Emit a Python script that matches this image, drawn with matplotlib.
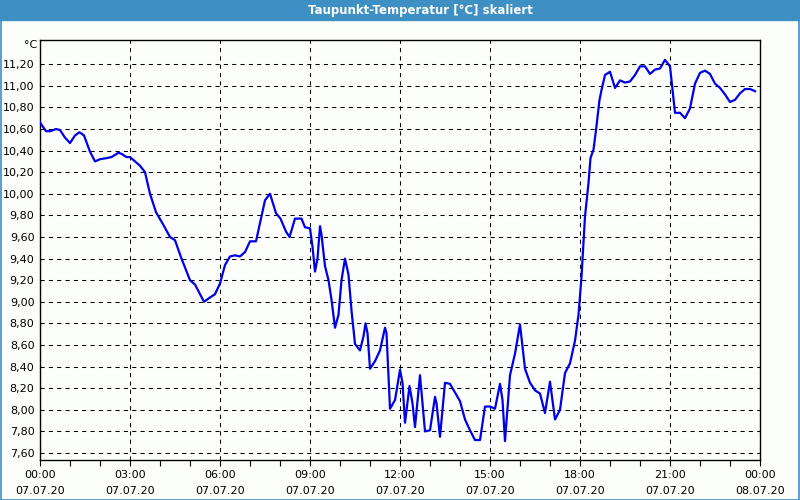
import numpy as np
import matplotlib
matplotlib.use("Agg")
import matplotlib.pyplot as plt
from matplotlib.patches import Rectangle
from matplotlib.ticker import MultipleLocator, FuncFormatter

# minutes since 07.07.20 00:00 and dew point values
minutes = [0, 12, 21, 32, 40, 50, 60, 70, 79, 88, 100, 110, 120, 133, 143, 157, 163, 173, 180, 190,
           200, 210, 220, 232, 247, 260, 270, 283, 300, 310, 328, 340, 350, 360, 370, 380, 390, 400,
           410, 420, 432, 450, 460, 472, 481, 492, 499, 510, 523, 530, 540, 545, 550, 555, 560, 563,
           570, 577, 583, 590, 597, 603, 610, 617, 623, 630, 640, 647, 651, 655, 660, 670, 680, 690,
           693, 700, 710, 720, 725, 730, 739, 745, 750, 760, 770, 780, 790, 793, 800, 810, 820, 830,
           840, 850, 860, 870, 880, 890, 900, 910, 920, 925, 930, 940, 950, 960, 970, 980, 990, 1000,
           1010, 1020, 1030, 1040, 1050, 1060, 1070, 1077, 1083, 1090, 1097, 1101, 1107, 1112, 1119,
           1123, 1130, 1140, 1150, 1160, 1170, 1180, 1190, 1200, 1210, 1220, 1230, 1240, 1250, 1260,
           1270, 1280, 1290, 1300, 1310, 1320, 1330, 1340, 1350, 1360, 1370, 1380, 1390, 1400, 1410,
           1420, 1430]
taupunkt = [10.66, 10.58, 10.58, 10.60, 10.59, 10.52, 10.47, 10.54, 10.57, 10.54, 10.39, 10.30, 10.32,
            10.33, 10.34, 10.38, 10.37, 10.34, 10.34, 10.30, 10.26, 10.20, 10.00, 9.83, 9.71, 9.60,
            9.57, 9.40, 9.20, 9.16, 9.00, 9.04, 9.07, 9.17, 9.34, 9.42, 9.43, 9.42, 9.46, 9.56, 9.56,
            9.94, 10.00, 9.82, 9.77, 9.65, 9.60, 9.77, 9.77, 9.69, 9.68, 9.51, 9.28, 9.40, 9.70, 9.62,
            9.33, 9.20, 9.02, 8.76, 8.88, 9.20, 9.40, 9.25, 8.92, 8.61, 8.55, 8.68, 8.80, 8.71, 8.38,
            8.45, 8.55, 8.76, 8.71, 8.01, 8.09, 8.37, 8.25, 7.88, 8.22, 8.06, 7.84, 8.32, 7.80, 7.81,
            8.12, 8.06, 7.75, 8.25, 8.24, 8.16, 8.08, 7.91, 7.81, 7.72, 7.72, 8.03, 8.03, 8.01, 8.24,
            8.09, 7.71, 8.32, 8.52, 8.79, 8.38, 8.25, 8.18, 8.15, 7.97, 8.26, 7.91, 8.00, 8.34, 8.43,
            8.64, 8.88, 9.23, 9.79, 10.10, 10.33, 10.41, 10.59, 10.87, 10.96, 11.10, 11.13, 10.98,
            11.05, 11.03, 11.04, 11.10, 11.18, 11.18, 11.11, 11.15, 11.16, 11.24, 11.18, 10.75, 10.75,
            10.70, 10.79, 11.02, 11.12, 11.14, 11.11, 11.02, 10.98, 10.92, 10.85, 10.87, 10.93, 10.97,
            10.97, 10.95]

tick_hours = [0, 3, 6, 9, 12, 15, 18, 21, 24]
tick_labels = ["00:00\n07.07.20", "03:00\n07.07.20", "06:00\n07.07.20", "09:00\n07.07.20",
               "12:00\n07.07.20", "15:00\n07.07.20", "18:00\n07.07.20", "21:00\n07.07.20",
               "00:00\n08.07.20"]
y_ticks = [7.6, 7.8, 8.0, 8.2, 8.4, 8.6, 8.8, 9.0, 9.2, 9.4, 9.6, 9.8, 10.0,
           10.2, 10.4, 10.6, 10.8, 11.0, 11.2]

title = "Taupunkt-Temperatur [°C] skaliert"
bg = "#fcfefc"

fig = plt.figure(figsize=(8, 5), dpi=100, facecolor=bg)

# title bar and outer frame
fig.patches.append(Rectangle((0, 0.96), 1, 0.04, transform=fig.transFigure, color="#3d8fc4", zorder=0))
fig.patches.append(Rectangle((0.0008, 0.001), 0.9984, 0.998, transform=fig.transFigure, fill=False,
                             edgecolor="#3d8fc4", lw=1.2, zorder=5))
fig.text(0.525, 0.979, title, color="white", fontsize=8.5, fontweight="bold", ha="center", va="center")

ax = fig.add_axes([0.05, 0.08, 0.90, 0.84])
ax.set_facecolor(bg)

hours = np.array(minutes) / 60.0
ax.plot(hours, taupunkt, color="#0000e6", lw=1.6, zorder=3)

ax.set_xlim(0, 24)
ax.set_ylim(7.535, 11.424)

ax.set_xticks(tick_hours)
ax.set_xticklabels(tick_labels, fontsize=8, linespacing=1.8)
ax.xaxis.set_minor_locator(MultipleLocator(1))
ax.set_yticks(y_ticks)
ax.yaxis.set_major_formatter(FuncFormatter(lambda v, p: f"{v:.2f}".replace(".", ",")))
ax.tick_params(axis="x", which="both", direction="out", length=4, width=0.8, pad=3)
ax.tick_params(axis="y", length=0, labelsize=8, pad=4)

ax.grid(True, which="major", color="black", lw=0.75, linestyle=(0, (4, 4)))
for s in ax.spines.values():
    s.set_linewidth(1.0)

fig.text(0.038, 0.91, "°C", fontsize=8, ha="center", va="center")

fig.savefig("out.png", dpi=100, facecolor=bg)
